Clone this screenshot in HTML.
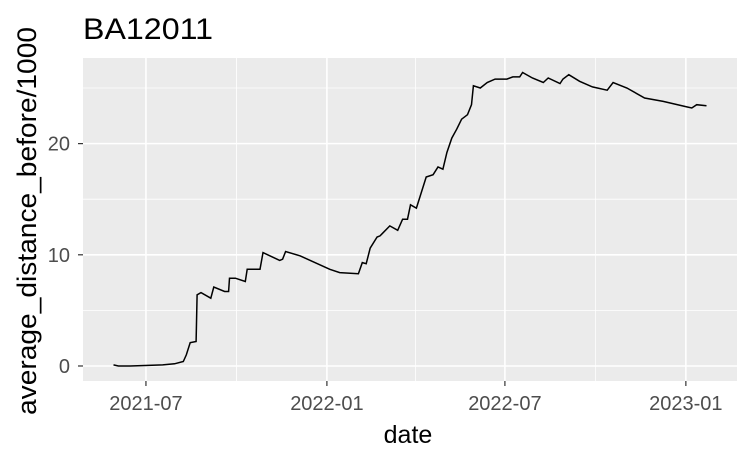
<!DOCTYPE html>
<html><head><meta charset="utf-8"><style>
body{margin:0;background:#fff;}
svg{display:block;font-family:"Liberation Sans",Arial,sans-serif;}
</style></head><body>
<svg id="chart" width="751" height="464">
<rect width="751" height="464" fill="#fff"/>
<text x="83" y="39" font-size="30" textLength="130" lengthAdjust="spacingAndGlyphs" fill="#000">BA12011</text>
<rect x="83" y="58" width="654" height="323" fill="#ebebeb"/>
<g id="grid"></g>
<g id="axes"></g>
<path id="series" fill="none" stroke="#000" stroke-width="1.5"/>
<text x="408" y="443" font-size="25" text-anchor="middle" fill="#000">date</text>
<text transform="translate(36,221) rotate(-90)" font-size="27" text-anchor="middle" textLength="388" lengthAdjust="spacingAndGlyphs" fill="#000">average_distance_before/1000</text>
</svg>
<script>
// days since 2021-07-01
const days=[-33,-28,-16,17,29,38,41,45,51,52,56,66,69,80,84,85,91,101,103,116,119,136,139,142,157,187,197,216,220,224,228,235,238,248,256,261,266,269,275,285,292,297,302,306,311,316,321,327,331,333,340,347,355,367,373,380,383,393,404,409,421,424,430,441,454,469,475,489,507,526,550,555,560,570];
const values=[0.1,0,0,0.1,0.2,0.4,1.0,2.1,2.2,6.4,6.6,6.1,7.1,6.7,6.7,7.9,7.9,7.6,8.7,8.7,10.2,9.5,9.6,10.3,9.9,8.7,8.4,8.3,9.3,9.2,10.6,11.6,11.7,12.6,12.2,13.2,13.2,14.5,14.2,17.0,17.2,17.9,17.7,19.2,20.5,21.3,22.2,22.6,23.5,25.2,25.0,25.5,25.8,25.8,26.0,26.0,26.4,25.9,25.5,25.9,25.4,25.8,26.2,25.6,25.1,24.8,25.5,25.0,24.1,23.8,23.3,23.2,23.5,23.4];
const yTicks=[0,10,20];
const yMinor=[5,15,25];
const xTickDays=[0,184,365,549];
const xTickLabels=["2021-07","2022-01","2022-07","2023-01"];
const xMinorDays=[92,274,457];

const X0=83,X1=737,Y0=58,Y1=381;
const dMin=-64,dMax=601,vMin=-1.35,vMax=27.7;
const xs=d=>X0+(d-dMin)/(dMax-dMin)*(X1-X0);
const ys=v=>Y1-(v-vMin)/(vMax-vMin)*(Y1-Y0);
const NS="http://www.w3.org/2000/svg";
const grid=document.getElementById('grid'),axes=document.getElementById('axes');
function mk(tag,attrs,parent){const e=document.createElementNS(NS,tag);for(const k in attrs)e.setAttribute(k,attrs[k]);parent.appendChild(e);return e;}
yMinor.forEach(v=>{const l=mk('line',{x1:X0,x2:X1,y1:ys(v),y2:ys(v),stroke:'#fff','stroke-width':0.8},grid);

});
xMinorDays.forEach(d=>{const l=mk('line',{x1:xs(d),x2:xs(d),y1:Y0,y2:Y1,stroke:'#fff','stroke-width':0.8},grid);

});
yTicks.forEach(v=>{const y=ys(v);
const l=mk('line',{x1:X0,x2:X1,y1:y,y2:y,stroke:'#fff','stroke-width':1.6},grid);


const t=mk('line',{x1:X0-5,x2:X0,y1:y,y2:y,stroke:'#333','stroke-width':1.2},axes);


const tx=mk('text',{x:X0-13,y:y+7,'font-size':20,'text-anchor':'end',fill:'#4d4d4d'},axes);tx.textContent=v;

});
xTickDays.forEach((d,i)=>{const x=xs(d);
const l=mk('line',{x1:x,x2:x,y1:Y0,y2:Y1,stroke:'#fff','stroke-width':1.6},grid);


const t=mk('line',{x1:x,x2:x,y1:Y1,y2:Y1+5,stroke:'#333','stroke-width':1.2},axes);


const tx=mk('text',{x:x,y:Y1+29,'font-size':20,'text-anchor':'middle',fill:'#4d4d4d'},axes);tx.textContent=xTickLabels[i];

});
document.getElementById('series').setAttribute('d',days.map((d,i)=>(i?'L':'M')+xs(d).toFixed(1)+','+ys(values[i]).toFixed(1)).join(''));
</script>
</body></html>
